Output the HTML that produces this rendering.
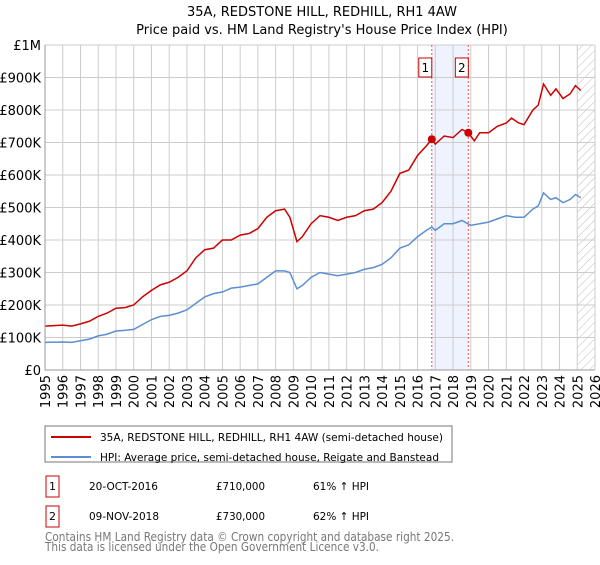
<!DOCTYPE html>
<html><head><meta charset="utf-8"><style>
body{margin:0;background:#fff;font-family:"Liberation Sans","DejaVu Sans",sans-serif;}
svg text{font-family:"DejaVu Sans","Liberation Sans",sans-serif;}
</style></head><body>
<svg id="c" width="600" height="560" xmlns="http://www.w3.org/2000/svg">
<defs><pattern id="hatch" width="6" height="6" patternUnits="userSpaceOnUse" patternTransform="rotate(45)"><line x1="0" y1="0" x2="0" y2="6" stroke="#bbb" stroke-width="1"/></pattern></defs>
<text x="322" y="16" text-anchor="middle" font-size="13">35A, REDSTONE HILL, REDHILL, RH1 4AW</text>
<text x="322" y="34" text-anchor="middle" font-size="13">Price paid vs. HM Land Registry's House Price Index (HPI)</text>
<g id="grid"></g><g id="marks"></g><g id="axes"></g>
<rect x="45" y="426" width="407" height="36" fill="#fff" stroke="#777"/>
<line x1="51" y1="437" x2="91" y2="437" stroke="#cc0000" stroke-width="2"/>
<text x="100" y="441" font-size="11" textLength="343" lengthAdjust="spacingAndGlyphs">35A, REDSTONE HILL, REDHILL, RH1 4AW (semi-detached house)</text>
<line x1="51" y1="457" x2="91" y2="457" stroke="#5b8fd4" stroke-width="2"/>
<text x="100" y="461" font-size="11" textLength="339" lengthAdjust="spacingAndGlyphs">HPI: Average price, semi-detached house, Reigate and Banstead</text>
<g font-size="11">
<rect x="46" y="476" width="13" height="21" fill="#fff" stroke="#cc0000"/><text x="52.5" y="490" text-anchor="middle">1</text>
<text x="89" y="490" textLength="69" lengthAdjust="spacingAndGlyphs">20-OCT-2016</text><text x="216" y="490" textLength="49" lengthAdjust="spacingAndGlyphs">£710,000</text><text x="313" y="490" textLength="56" lengthAdjust="spacingAndGlyphs">61% ↑ HPI</text></g>
<g font-size="11">
<rect x="46" y="506" width="13" height="21" fill="#fff" stroke="#cc0000"/><text x="52.5" y="520" text-anchor="middle">2</text>
<text x="89" y="520" textLength="70" lengthAdjust="spacingAndGlyphs">09-NOV-2018</text><text x="216" y="520" textLength="49" lengthAdjust="spacingAndGlyphs">£730,000</text><text x="313" y="520" textLength="56" lengthAdjust="spacingAndGlyphs">62% ↑ HPI</text></g>
<text x="45" y="541" font-size="12" fill="#777" textLength="409" lengthAdjust="spacingAndGlyphs">Contains HM Land Registry data © Crown copyright and database right 2025.</text>
<text x="45" y="551" font-size="12" fill="#777" textLength="334" lengthAdjust="spacingAndGlyphs">This data is licensed under the Open Government Licence v3.0.</text>
</svg>
<script>
const redX=[1995,1996,1996.5,1997,1997.5,1998,1998.5,1999,1999.5,2000,2000.5,2001,2001.5,2002,2002.5,2003,2003.5,2004,2004.5,2005,2005.5,2006,2006.5,2007,2007.5,2008,2008.5,2008.8,2009.2,2009.5,2010,2010.5,2011,2011.5,2012,2012.5,2013,2013.5,2014,2014.5,2015,2015.5,2016,2016.5,2016.8,2017,2017.5,2018,2018.5,2018.86,2019.2,2019.5,2020,2020.5,2021,2021.3,2021.7,2022,2022.5,2022.8,2023.1,2023.5,2023.8,2024.2,2024.6,2024.9,2025.2];
const redY=[135,138,135,142,150,165,175,190,192,200,225,245,262,270,285,305,345,370,375,400,400,415,420,435,470,490,495,470,395,410,450,475,470,460,470,475,490,495,515,550,605,615,660,690,710,695,720,715,740,730,705,730,730,750,760,775,760,755,800,815,880,845,865,835,850,875,860];
const hpiX=[1995,1996,1996.5,1997,1997.5,1998,1998.5,1999,1999.5,2000,2000.5,2001,2001.5,2002,2002.5,2003,2003.5,2004,2004.5,2005,2005.5,2006,2006.5,2007,2007.5,2008,2008.5,2008.8,2009.2,2009.5,2010,2010.5,2011,2011.5,2012,2012.5,2013,2013.5,2014,2014.5,2015,2015.5,2016,2016.5,2016.8,2017,2017.5,2018,2018.5,2019,2019.5,2020,2020.5,2021,2021.5,2022,2022.5,2022.8,2023.1,2023.5,2023.8,2024.2,2024.6,2024.9,2025.2];
const hpiY=[85,86,85,90,95,105,110,120,122,125,140,155,165,168,175,185,205,225,235,240,252,255,260,265,285,305,305,300,250,260,285,300,295,290,295,300,310,315,325,345,375,385,410,430,440,430,450,450,460,445,450,455,465,475,470,470,495,505,545,525,530,515,525,540,530];
const saleX=[2016.8,2018.86];
const saleY=[710,730];
const saleLabels=["1","2"];
const yTicks=[0,100,200,300,400,500,600,700,800,900,1000];
const yLabels=["£0","£100K","£200K","£300K","£400K","£500K","£600K","£700K","£800K","£900K","£1M"];
const xTicks=[1995,1996,1997,1998,1999,2000,2001,2002,2003,2004,2005,2006,2007,2008,2009,2010,2011,2012,2013,2014,2015,2016,2017,2018,2019,2020,2021,2022,2023,2024,2025,2026];
const X0=45,X1=595,Y0=370,Y1=45;
const sx=v=>X0+(v-1995)/(2026-1995)*(X1-X0);
const sy=v=>Y0-v/1000*(Y0-Y1);
const NS="http://www.w3.org/2000/svg";
function mk(p,t,a){const e=document.createElementNS(NS,t);for(const k in a)e.setAttribute(k,a[k]);p.appendChild(e);return e;}
const grid=document.getElementById('grid'),marks=document.getElementById('marks'),axes=document.getElementById('axes');
let sh=mk(grid,'rect',{x:sx(saleX[0]),y:Y1,width:sx(saleX[1])-sx(saleX[0]),height:Y0-Y1,fill:'#eef3fd'});


let hz=mk(grid,'rect',{x:sx(2025),y:Y1,width:X1-sx(2025),height:Y0-Y1,fill:'url(#hatch)'});


yTicks.forEach((t,i)=>{
 const l=mk(grid,'line',{x1:X0,x2:X1,y1:sy(t),y2:sy(t),stroke:'#ccc'});
 
 
 const tx=mk(axes,'text',{x:X0-4,y:sy(t)+5,'text-anchor':'end','font-size':13});
 tx.textContent=yLabels[i];
 
 
});
xTicks.forEach(t=>{
 const l=mk(grid,'line',{x1:sx(t),x2:sx(t),y1:Y1,y2:Y0,stroke:'#ccc'});
 
 
 const tx=mk(axes,'text',{transform:`translate(${sx(t)+5},${Y0+5}) rotate(-90)`,'text-anchor':'end','font-size':13});
 tx.textContent=t;
 
 
});
saleX.forEach((v,i)=>{
 const l=mk(marks,'line',{x1:sx(v),x2:sx(v),y1:Y1,y2:Y0,stroke:'#e55','stroke-dasharray':'2,2'});
 
 
 const b=mk(marks,'rect',{x:sx(v)-13,y:58,width:13,height:19,fill:'#fff',stroke:'#cc0000'});
 
 
 const t=mk(marks,'text',{x:sx(v)-6.5,y:72,'text-anchor':'middle','font-size':12});
 t.textContent=saleLabels[i];
 
 
});
function line(xs,ys,c,n){const p=mk(marks,'polyline',{points:xs.map((x,i)=>sx(x)+','+sy(ys[i])).join(' '),fill:'none',stroke:c,'stroke-width':1.5});
 
 }
line(hpiX,hpiY,'#5b8fd4','hpi-line');
line(redX,redY,'#cc0000','property-price-line');
saleX.forEach((v,i)=>{const c=mk(marks,'circle',{cx:sx(v),cy:sy(saleY[i]),r:4,fill:'#cc0000'});
 
 });
const ax=mk(axes,'path',{d:`M${X0},${Y1}V${Y0}H${X1}`,fill:'none',stroke:'#999'});


</script>
</body></html>
